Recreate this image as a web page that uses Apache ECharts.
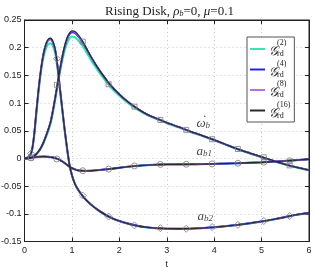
<!DOCTYPE html>
<html><head><meta charset="utf-8">
<script src="https://cdn.jsdelivr.net/npm/echarts@6/dist/echarts.min.js"></script>
<style>html,body{margin:0;padding:0;background:#fff}#c{width:314px;height:267px}</style>
</head><body><div id="c"></div>
<script>
// time grid
const t = [0,0.05,0.1,0.15,0.2,0.25,0.3,0.35,0.4,0.45,0.5,0.55,0.6,0.65,0.7,0.75,0.8,0.85,0.9,0.95,1.0,1.05,1.1,1.2,1.3,1.4,1.5,1.6,1.8,2.0,2.2,2.4,2.6,2.8,3.0,3.25,3.5,3.75,4.0,4.25,4.5,4.75,5.0,5.25,5.5,5.75,6.0];

// omega-dot_b
const wG16 = [0,0,0.0005,0.002,0.004,0.008,0.013,0.02,0.029,0.04,0.052,0.066,0.087,0.111,0.137,0.162,0.185,0.204,0.218,0.2265,0.2305,0.2297,0.2262,0.215,0.2,0.184,0.17,0.157,0.134,0.116,0.101,0.089,0.079,0.0718,0.0647,0.057,0.0487,0.0413,0.0335,0.0252,0.017,0.0098,0.0028,-0.0042,-0.0105,-0.016,-0.021];
const wG8  = [0,0,0.0005,0.002,0.004,0.008,0.013,0.02,0.029,0.04,0.052,0.066,0.087,0.111,0.137,0.162,0.185,0.2035,0.2175,0.226,0.2297,0.229,0.2255,0.2145,0.2,0.184,0.17,0.157,0.134,0.116,0.101,0.089,0.079,0.0718,0.0647,0.057,0.0487,0.0413,0.0335,0.0252,0.017,0.0098,0.0028,-0.0042,-0.0105,-0.016,-0.021];
const wG4  = [0,0,0.0005,0.002,0.004,0.008,0.013,0.02,0.029,0.04,0.052,0.066,0.087,0.111,0.136,0.161,0.184,0.2025,0.2165,0.2245,0.228,0.2273,0.224,0.213,0.1988,0.1835,0.1695,0.1565,0.1337,0.1158,0.1008,0.0888,0.0788,0.0716,0.0645,0.0568,0.0485,0.0411,0.0333,0.025,0.0168,0.0096,0.0026,-0.0044,-0.0107,-0.0162,-0.0212];
const wG2  = [0,0,0.0005,0.0018,0.0038,0.0075,0.0122,0.0188,0.0275,0.038,0.0495,0.063,0.083,0.107,0.133,0.157,0.178,0.196,0.209,0.2165,0.2198,0.2192,0.2163,0.2065,0.193,0.178,0.1648,0.1525,0.1305,0.1133,0.099,0.0875,0.0778,0.0708,0.0638,0.0562,0.048,0.0406,0.0328,0.0246,0.0164,0.0092,0.0022,-0.0048,-0.011,-0.0165,-0.0215];

// a_b1
const a1G16 = [0,0.0003,0.0008,0.0015,0.002,0.0025,0.003,0.0033,0.0034,0.0033,0.003,0.0025,0.0017,0.0006,-0.001,-0.003,-0.0055,-0.0085,-0.012,-0.015,-0.0175,-0.0195,-0.021,-0.0222,-0.0225,-0.0222,-0.0215,-0.0207,-0.019,-0.0168,-0.0148,-0.0132,-0.012,-0.0112,-0.0108,-0.0106,-0.0105,-0.0102,-0.0098,-0.0092,-0.0086,-0.0078,-0.007,-0.0058,-0.0045,-0.003,-0.0015];
const a1G8 = a1G16, a1G4 = a1G16;
const a1G2 = [0,0.0003,0.0008,0.0014,0.0019,0.0024,0.0029,0.0032,0.0033,0.0032,0.0029,0.0024,0.0016,0.0005,-0.0011,-0.003,-0.0054,-0.0083,-0.0117,-0.0147,-0.0173,-0.0193,-0.0208,-0.0221,-0.0225,-0.0223,-0.0216,-0.0208,-0.0191,-0.0169,-0.0149,-0.0133,-0.0121,-0.0113,-0.0109,-0.0107,-0.0105,-0.0102,-0.0098,-0.0092,-0.0086,-0.0078,-0.007,-0.0058,-0.0045,-0.003,-0.0015];

// a_b2
const a2G16 = [0,0.001,0.004,0.012,0.04,0.085,0.128,0.163,0.189,0.206,0.215,0.217,0.211,0.196,0.165,0.125,0.087,0.05,0.017,-0.012,-0.03,-0.043,-0.052,-0.065,-0.075,-0.083,-0.09,-0.096,-0.106,-0.113,-0.118,-0.122,-0.1245,-0.126,-0.1268,-0.127,-0.1268,-0.1258,-0.1242,-0.1222,-0.1198,-0.117,-0.1138,-0.11,-0.1058,-0.1015,-0.098];
const a2G8  = [0,0.001,0.004,0.012,0.04,0.085,0.128,0.163,0.189,0.2055,0.2143,0.2163,0.2103,0.1955,0.1648,0.125,0.087,0.05,0.017,-0.012,-0.03,-0.043,-0.052,-0.065,-0.075,-0.083,-0.09,-0.096,-0.106,-0.113,-0.118,-0.122,-0.1245,-0.126,-0.1268,-0.127,-0.1268,-0.1258,-0.1242,-0.1222,-0.1198,-0.117,-0.1138,-0.11,-0.1058,-0.1015,-0.098];
const a2G4  = [0,0.001,0.004,0.012,0.0398,0.0845,0.1272,0.1622,0.1885,0.2048,0.2135,0.2153,0.2093,0.1948,0.1643,0.1247,0.0868,0.0498,0.0168,-0.0121,-0.0301,-0.043,-0.052,-0.065,-0.075,-0.083,-0.09,-0.096,-0.106,-0.113,-0.118,-0.122,-0.1245,-0.126,-0.1268,-0.127,-0.1268,-0.1258,-0.1242,-0.1222,-0.1198,-0.117,-0.1138,-0.11,-0.1058,-0.1015,-0.098];
const a2G2  = [0,0.001,0.0038,0.0112,0.037,0.08,0.124,0.158,0.183,0.198,0.2065,0.208,0.2025,0.189,0.16,0.122,0.0845,0.048,0.0155,-0.0128,-0.0305,-0.0432,-0.0522,-0.0652,-0.0752,-0.0832,-0.0902,-0.0962,-0.1062,-0.1132,-0.1182,-0.1222,-0.1247,-0.1262,-0.127,-0.1272,-0.127,-0.126,-0.1244,-0.1224,-0.12,-0.1172,-0.114,-0.1102,-0.106,-0.1017,-0.0982];

// reference markers
const tMark  = [0.137,0.683,1.228,1.774,2.319,2.865,3.41,3.956,4.501,5.047,5.592];
const wMark  = [0.0015,0.133,0.211,0.134,0.0935,0.0695,0.0515,0.0347,0.017,0.002,-0.0125];
const a1Mark = [0.001,-0.001,-0.0222,-0.0193,-0.0136,-0.0108,-0.0105,-0.0099,-0.0087,-0.0068,-0.0042];
const a2Mark = [0.009,0.180,-0.067,-0.105,-0.121,-0.126,-0.127,-0.124,-0.120,-0.113,-0.104];

const methods = ['G2','G4','G8','G16'];
const methodOrder = ['(2)','(4)','(8)','(16)'];
const xTicks = [0,1,2,3,4,5,6];
const yTicks = [-0.15,-0.1,-0.05,0,0.05,0.1,0.15,0.2,0.25];

const curveNames = ['ω', 'a', 'a'];
const curveDots = ['·', '', ''];
const curveSubs = ['b', 'b1', 'b2'];
</script>
<script>
const chart = echarts.init(document.getElementById('c'), null, {renderer: 'canvas'});
const zip = (xs, ys) => xs.map((x, i) => [x, ys[i]]);
const colors = {G2: '#33e6b3', G4: '#2222ee', G8: '#b070f0', G16: '#2a2a2a'};
const widths = {G2: 2.2, G4: 1.9, G8: 1.7, G16: 1.3};
const dataSets = {
  G2: [wG2, a1G2, a2G2], G4: [wG4, a1G4, a2G4], G8: [wG8, a1G8, a2G8], G16: [wG16, a1G16, a2G16]
};
const serif = "'Liberation Serif','DejaVu Serif',serif";
const sans = "'Liberation Sans','DejaVu Sans',sans-serif";

const series = [];
methods.forEach(m => {
  dataSets[m].forEach(arr => {
    series.push({
      name: m, type: 'line', data: zip(t, arr), smooth: 0.25, symbol: 'none', showSymbol: false,
      lineStyle: {color: colors[m], width: widths[m]}, itemStyle: {color: colors[m]},
      silent: true, animation: false, z: 2
    });
  });
});
const markStyle = {color: 'rgba(0,0,0,0)', borderColor: '#7a7a7a', borderWidth: 1};
[['rect', wMark, 5], ['circle', a1Mark, 6], ['diamond', a2Mark, 7]].forEach(([sym, arr, sz]) => {
  series.push({type: 'scatter', data: zip(tMark, arr), symbol: sym, symbolSize: sz,
    itemStyle: markStyle, silent: true, animation: false, z: 3});
});
// curve annotations
const annT = [3.77, 3.79, 3.81];
const annV = [0.0625, 0.0117, -0.1056];
series.push({
  type: 'scatter', symbolSize: 0, silent: true, animation: false, z: 4,
  data: annT.map((x, i) => [x, annV[i]]),
  label: {show: true, position: 'inside',
    formatter: p => {
      const i = p.dataIndex;
      return `{dp|}{dt|${curveDots[i]}}\n{m|${curveNames[i]}}{s|${curveSubs[i]}}`;
    },
    rich: {
      dp: {width: 3, lineHeight: 0.1, fontSize: 6},
      dt: {fontFamily: serif, fontSize: 12, lineHeight: 0.1, color: '#111'},
      m: {fontFamily: serif, fontStyle: 'italic', fontSize: 13, color: '#111', lineHeight: 13},
      s: {fontFamily: serif, fontStyle: 'italic', fontSize: 9, color: '#111', verticalAlign: 'bottom', lineHeight: 11}
    }}
});

const axBase = {type: 'value', axisLine: {show: true, onZero: false, lineStyle: {color: '#222', width: 1}},
  axisTick: {show: true, inside: true, length: 4, lineStyle: {color: '#222'}}};
const gridLine = {show: true, lineStyle: {color: '#c8c8c8', type: [1, 3], width: 1}};

chart.setOption({
  animation: false,
  backgroundColor: '#fff',
  title: {
    text: '{r|Rising Disk, }{i|ρ}{s|b}{r|=0, }{i|μ}{r|=0.1}',
    left: 100, top: 0,
    textStyle: {fontWeight: 'normal', rich: {
      r: {fontFamily: serif, fontSize: 13, fontWeight: 'normal', color: '#222'},
      i: {fontFamily: serif, fontStyle: 'italic', fontWeight: 'normal', fontSize: 13, color: '#222'},
      s: {fontFamily: serif, fontStyle: 'italic', fontWeight: 'normal', fontSize: 8, color: '#222', verticalAlign: 'bottom', lineHeight: 11}
    }}
  },
  grid: {left: 24.5, right: 5, top: 20, bottom: 25.5, containLabel: false, outerBoundsMode: 'none',
    show: true, borderColor: '#222', borderWidth: 1},
  legend: {
    data: methods, orient: 'vertical', left: 247, top: 37, icon: 'rect',
    backgroundColor: '#fff', borderColor: '#555', borderWidth: 1, borderRadius: 0,
    padding: [2, 4, 2, 3], itemGap: 1, itemWidth: 15, itemHeight: 2,
    formatter: n => `{p|}{u|${methodOrder[methods.indexOf(n)]}}\n{g|𝒢}{d|rd}`,
    textStyle: {padding: [0, 0, 0, -1], rich: {
      p: {width: 8, lineHeight: 6, fontSize: 7},
      u: {fontFamily: serif, fontSize: 8, lineHeight: 6, color: '#222'},
      g: {fontFamily: serif, fontStyle: 'italic', fontSize: 13, lineHeight: 12, width: 8, color: '#222'},
      d: {fontFamily: serif, fontSize: 8, lineHeight: 12, verticalAlign: 'bottom', color: '#222'}
    }}
  },
  xAxis: [
    Object.assign({}, axBase, {position: 'bottom', min: 0, max: 6, interval: 1,
      name: 't', nameLocation: 'middle', nameGap: 15,
      nameTextStyle: {fontFamily: sans, fontSize: 9, color: '#222'},
      axisLabel: {fontFamily: sans, fontSize: 9, color: '#222', margin: 5},
      splitLine: gridLine}),
    Object.assign({}, axBase, {position: 'top', min: 0, max: 6, interval: 1,
      axisLabel: {show: false}, splitLine: {show: false}})
  ],
  yAxis: [
    Object.assign({}, axBase, {position: 'left', min: -0.15, max: 0.25, interval: 0.05,
      axisLabel: {fontFamily: sans, fontSize: 9, color: '#222', margin: 3,
        formatter: v => String(Math.round(v * 100) / 100)},
      splitLine: gridLine}),
    Object.assign({}, axBase, {position: 'right', min: -0.15, max: 0.25, interval: 0.05,
      axisLabel: {show: false}, splitLine: {show: false}})
  ],
  series: series
});
</script>
</body></html>
